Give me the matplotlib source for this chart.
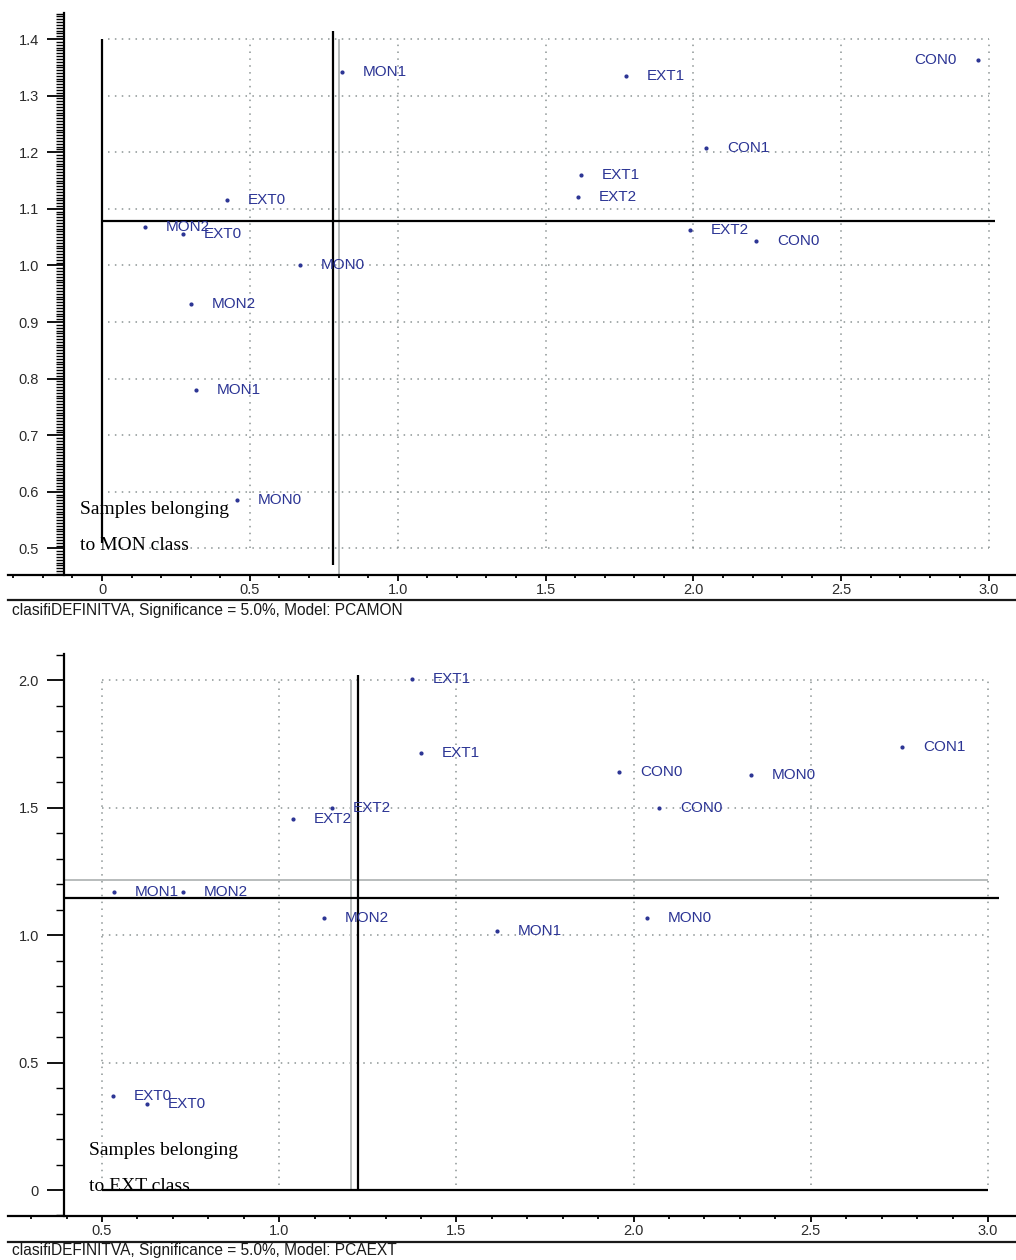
import matplotlib
matplotlib.use("Agg")
import matplotlib.pyplot as plt
from matplotlib.ticker import MultipleLocator, FixedLocator
from matplotlib.lines import Line2D

plt.rcParams['font.family'] = ['Liberation Sans', 'DejaVu Sans']

# ---------------- data: top panel (Model PCAMON) ----------------
top_labels = ["MON1", "EXT0", "MON2", "EXT0", "MON0", "MON2", "MON1", "MON0",
              "EXT1", "CON0", "CON1", "EXT1", "EXT2", "EXT2", "CON0"]
top_x = [0.812, 0.423, 0.145, 0.274, 0.670, 0.301, 0.318, 0.456,
         1.772, 2.962, 2.043, 1.620, 1.610, 1.989, 2.212]
top_y = [1.342, 1.116, 1.068, 1.055, 1.000, 0.932, 0.780, 0.585,
         1.335, 1.363, 1.207, 1.160, 1.121, 1.063, 1.043]
top_xticks = [0, 0.5, 1.0, 1.5, 2.0, 2.5, 3.0]
top_xticklabels = ["0", "0.5", "1.0", "1.5", "2.0", "2.5", "3.0"]
top_yticks = [0.5, 0.6, 0.7, 0.8, 0.9, 1.0, 1.1, 1.2, 1.3, 1.4]
top_yticklabels = ["0.5", "0.6", "0.7", "0.8", "0.9", "1.0", "1.1", "1.2", "1.3", "1.4"]
top_limit_x = 0.781        # black vertical limit
top_limit_x_gray = 0.803   # gray vertical limit
top_limit_y = 1.078        # black horizontal limit
top_caption = "clasifiDEFINITVA, Significance = 5.0%, Model: PCAMON"
top_note = ["Samples belonging", "to MON class"]

# ---------------- data: bottom panel (Model PCAEXT) ----------------
bot_labels = ["EXT1", "EXT1", "EXT2", "EXT2", "MON1", "MON2", "MON2", "MON1",
              "CON0", "MON0", "CON1", "CON0", "MON0", "EXT0", "EXT0"]
bot_x = [1.374, 1.400, 1.150, 1.040, 0.535, 0.728, 1.127, 1.614,
         1.959, 2.332, 2.758, 2.072, 2.038, 0.532, 0.626]
bot_y = [2.007, 1.717, 1.501, 1.455, 1.171, 1.171, 1.069, 1.018,
         1.640, 1.629, 1.738, 1.501, 1.069, 0.369, 0.338]
bot_xticks = [0.5, 1.0, 1.5, 2.0, 2.5, 3.0]
bot_xticklabels = ["0.5", "1.0", "1.5", "2.0", "2.5", "3.0"]
bot_yticks = [0, 0.5, 1.0, 1.5, 2.0]
bot_yticklabels = ["0", "0.5", "1.0", "1.5", "2.0"]
bot_limit_x = 1.222
bot_limit_x_gray = 1.203
bot_limit_y = 1.146
bot_limit_y_gray = 1.217
bot_caption = "clasifiDEFINITVA, Significance = 5.0%, Model: PCAEXT"
bot_note = ["Samples belonging", "to EXT class"]

# ---------------- styling ----------------
W, H = 1016, 1260
fig = plt.figure(figsize=(W / 100, H / 100), dpi=100)
PT_BLUE = '#2b3494'
GRID = '#8c9494'
TICKC = '#2a2a2a'


def px_rect(x0, y0, x1, y1):
    return [x0 / W, 1 - y1 / H, (x1 - x0) / W, (y1 - y0) / H]


def setup(ax, xlim, ylim, spine_x, xticks, xtl, yticks, ytl, yminor, xminor):
    ax.set_xlim(*xlim)
    ax.set_ylim(*ylim)
    for s in ('top', 'right'):
        ax.spines[s].set_visible(False)
    ax.spines['left'].set_position(('data', spine_x))
    ax.spines['left'].set_linewidth(1.6)
    ax.spines['bottom'].set_linewidth(1.6)
    ax.xaxis.set_major_locator(FixedLocator(xticks))
    ax.set_xticklabels(xtl)
    ax.yaxis.set_major_locator(FixedLocator(yticks))
    ax.set_yticklabels(ytl)
    ax.yaxis.set_minor_locator(MultipleLocator(yminor))
    ax.xaxis.set_minor_locator(MultipleLocator(xminor))
    ax.tick_params(axis='y', which='major', direction='out', length=12, width=1.3,
                   pad=6, labelsize=10.5, labelcolor=TICKC)
    ax.tick_params(axis='y', which='minor', direction='out', length=5.5, width=1.0)
    ax.tick_params(axis='x', which='major', direction='out', length=4, width=1.3,
                   pad=2, labelsize=10.5, labelcolor=TICKC)
    ax.tick_params(axis='x', which='minor', direction='out', length=2, width=1.3)
    ax.patch.set_alpha(0)


def points(ax, xs, ys, labels, right_edge):
    ax.plot(xs, ys, 'o', ms=2.0, color=PT_BLUE, zorder=5)
    for x, y, lab in zip(xs, ys, labels):
        if x > right_edge:
            ax.annotate(lab, (x, y), xytext=(-15, 0), textcoords='offset points',
                        ha='right', va='center', fontsize=11, color=PT_BLUE, zorder=6)
        else:
            ax.annotate(lab, (x, y), xytext=(15, 0), textcoords='offset points',
                        ha='left', va='center', fontsize=11, color=PT_BLUE, zorder=6)


grid_kw = dict(colors=GRID, linestyles=(0, (1, 3.5)), linewidth=1.1, zorder=1)

# ---------------- top panel ----------------
ax1 = fig.add_axes(px_rect(8, 13, 1016, 575))
setup(ax1, (-0.318, 3.091), (0.453, 1.446), -0.128,
      top_xticks, top_xticklabels, top_yticks, top_yticklabels, 0.005, 0.1)
ax1.hlines(top_yticks, 0.02, 3.0, **grid_kw)
ax1.vlines(top_xticks[1:], 0.5, 1.4, **grid_kw)
ax1.vlines([0], 0.51, 1.4, colors='black', linewidth=1.6, zorder=3)
ax1.vlines([top_limit_x_gray], 0.453, 1.4, colors='#b8bcbc', linewidth=1.4, zorder=2)
ax1.vlines([top_limit_x], 0.471, 1.414, colors='black', linewidth=1.6, zorder=3)
ax1.hlines([top_limit_y], 0, 3.02, colors='black', linewidth=1.6, zorder=3)
points(ax1, top_x, top_y, top_labels, 2.9)
ax1.text(-0.074, 0.569, top_note[0], family=['Liberation Serif'], fontsize=14,
         ha='left', va='center', color='black', zorder=7)
ax1.text(-0.074, 0.506, top_note[1], family=['Liberation Serif'], fontsize=14,
         ha='left', va='center', color='black', zorder=7)

# ---------------- bottom panel ----------------
ax2 = fig.add_axes(px_rect(8, 654, 1016, 1216))
setup(ax2, (0.2348, 3.079), (-0.102, 2.104), 0.393,
      bot_xticks, bot_xticklabels, bot_yticks, bot_yticklabels, 0.1, 0.1)
ax2.hlines(bot_yticks[1:], 0.5, 3.0, **grid_kw)
ax2.vlines(bot_xticks, 0.02, 2.0, **grid_kw)
ax2.hlines([0], 0.5, 3.0, colors='black', linewidth=1.6, zorder=3)
ax2.vlines([bot_limit_x_gray], 0, 2.0, colors='#b8bcbc', linewidth=1.4, zorder=2)
ax2.hlines([bot_limit_y_gray], 0.393, 3.0, colors='#b8bcbc', linewidth=1.4, zorder=2)
ax2.vlines([bot_limit_x], 0, 2.02, colors='black', linewidth=1.6, zorder=3)
ax2.hlines([bot_limit_y], 0.393, 3.03, colors='black', linewidth=1.6, zorder=3)
points(ax2, bot_x, bot_y, bot_labels, 2.9)
ax2.text(0.463, 0.157, bot_note[0], family=['Liberation Serif'], fontsize=14,
         ha='left', va='center', color='black', zorder=7)
ax2.text(0.463, 0.012, bot_note[1], family=['Liberation Serif'], fontsize=14,
         ha='left', va='center', color='black', zorder=7)

# ---------------- separator lines and captions ----------------
for yl in (600, 1242):
    fig.add_artist(Line2D([8 / W, 1.0], [1 - yl / H, 1 - yl / H],
                          color='#1a1a1a', linewidth=1.6))
fig.text(12 / W, 1 - 610 / H, top_caption, fontsize=11.2, color='#1a1a1a',
         ha='left', va='center')
fig.text(12 / W, 1 - 1251 / H, bot_caption, fontsize=11.2, color='#1a1a1a',
         ha='left', va='center')

fig.savefig("out.png", dpi=100, facecolor='white')
